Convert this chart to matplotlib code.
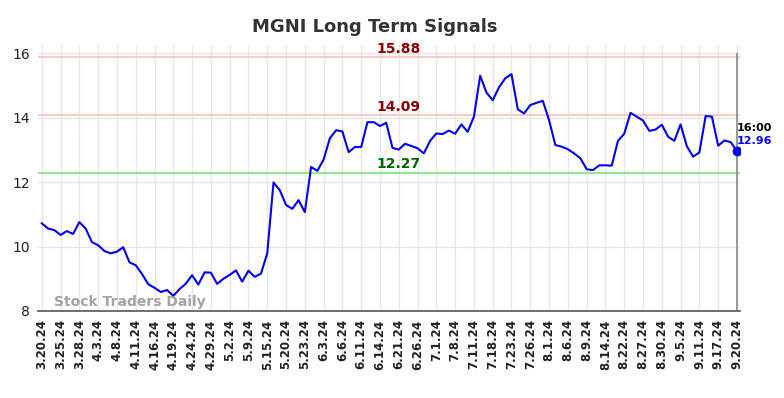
import matplotlib
matplotlib.use('Agg')
import matplotlib.pyplot as plt

# closing prices, one per session
prices = [10.72, 10.56, 10.51, 10.36, 10.48, 10.39, 10.76, 10.56, 10.14, 10.04,
          9.86, 9.79, 9.84, 9.98, 9.51, 9.42, 9.15, 8.83, 8.72, 8.59,
          8.65, 8.47, 8.68, 8.85, 9.11, 8.82, 9.20, 9.19, 8.84, 9.00,
          9.12, 9.26, 8.91, 9.25, 9.06, 9.16, 9.79, 11.99, 11.75, 11.29,
          11.17, 11.44, 11.07, 12.47, 12.35, 12.70, 13.36, 13.61, 13.57, 12.93,
          13.09, 13.09, 13.86, 13.86, 13.74, 13.84, 13.06, 13.01, 13.19, 13.12,
          13.05, 12.89, 13.28, 13.51, 13.49, 13.60, 13.50, 13.79, 13.56, 14.03,
          15.30, 14.78, 14.54, 14.94, 15.22, 15.35, 14.26, 14.13, 14.39, 14.46,
          14.52, 13.92, 13.15, 13.10, 13.02, 12.89, 12.74, 12.40, 12.37, 12.52,
          12.52, 12.51, 13.28, 13.50, 14.15, 14.03, 13.91, 13.59, 13.63, 13.78,
          13.41, 13.28, 13.79, 13.11, 12.79, 12.92, 14.05, 14.03, 13.13, 13.29,
          13.24, 12.96]

date_labels = ['3.20.24', '3.25.24', '3.28.24', '4.3.24', '4.8.24', '4.11.24', '4.16.24',
               '4.19.24', '4.24.24', '4.29.24', '5.2.24', '5.9.24', '5.15.24', '5.20.24',
               '5.23.24', '6.3.24', '6.6.24', '6.11.24', '6.14.24', '6.21.24', '6.26.24',
               '7.1.24', '7.8.24', '7.11.24', '7.18.24', '7.23.24', '7.26.24', '8.1.24',
               '8.6.24', '8.9.24', '8.14.24', '8.22.24', '8.27.24', '8.30.24', '9.5.24',
               '9.11.24', '9.17.24', '9.20.24']

upper_signal = 15.88
mid_signal = 14.09
low_signal = 12.27
last_time = '16:00'

fig = plt.figure(figsize=(7.84, 3.98), dpi=100)
ax = fig.add_axes([0.0485, 0.2186, 0.8955, 0.668])

x = list(range(len(prices)))
ax.plot(x, prices, color='#0000ff', lw=1.5, zorder=3)
ax.plot(x[-1], prices[-1], 'o', color='#0000ff', ms=6, zorder=4)

ax.axhline(upper_signal, color='#ffc8c8', lw=1.5, zorder=2)
ax.axhline(mid_signal, color='#ffc8c8', lw=1.5, zorder=2)
ax.axhline(low_signal, color='#90e890', lw=1.5, zorder=2)
ax.vlines(x[-1], 8, 16, color='#888888', lw=1.2, zorder=2)

mid_x = 57
ax.text(mid_x, upper_signal + 0.02, f'{upper_signal:.2f}', color='#8b0000',
        fontsize=10, fontweight='bold', ha='center', va='bottom')
ax.text(mid_x, mid_signal + 0.03, f'{mid_signal:.2f}', color='#8b0000',
        fontsize=10, fontweight='bold', ha='center', va='bottom')
ax.text(mid_x, low_signal + 0.06, f'{low_signal:.2f}', color='#006400',
        fontsize=10, fontweight='bold', ha='center', va='bottom')

ax.text(x[-1] - 0.1, prices[-1] + 0.55, last_time, color='black',
        fontsize=8, fontweight='bold', ha='left', va='bottom')
ax.text(x[-1] - 0.1, prices[-1] + 0.17, f'{prices[-1]:.2f}', color='#0000ff',
        fontsize=8, fontweight='bold', ha='left', va='bottom')

ax.text(2, 8.05, 'Stock Traders Daily', color='#999999', fontsize=10,
        fontweight='bold', ha='left', va='bottom', alpha=0.9)

ticks = list(range(0, len(prices), 3))
ax.set_xticks(ticks)
ax.set_xticklabels(date_labels, rotation=90, fontsize=8.5, fontweight='bold',
                   color='#222222')
ax.set_yticks([8, 10, 12, 14, 16])
ax.tick_params(axis='both', length=0, pad=6)
ax.tick_params(axis='y', labelsize=10, labelcolor='#222222')
ax.set_xlim(-0.6, len(prices) - 0.5)
ax.set_ylim(8, 16.25)
ax.grid(True, color='#e6e6e6', lw=1)
ax.set_axisbelow(True)

for side in ['top', 'right', 'left']:
    ax.spines[side].set_visible(False)
ax.spines['bottom'].set_color('#555555')
ax.spines['bottom'].set_linewidth(1.2)

fig.suptitle('MGNI Long Term Signals', fontsize=13, fontweight='bold',
             color='#333333', x=0.478, y=0.955)

fig.savefig('out.png', dpi=100)
